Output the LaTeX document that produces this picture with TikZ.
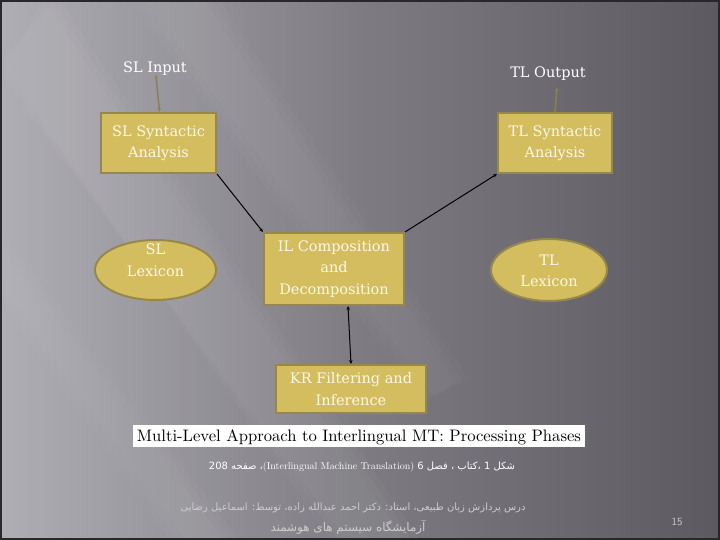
\documentclass[tikz,border=0pt]{standalone}
\usepackage{fontspec}
\newfontfamily\arabicfont[Script=Arabic]{DejaVu Sans}
\newfontfamily\boxfont{DejaVu Serif}
\TeXXeTstate=1
\usetikzlibrary{shapes.geometric,arrows.meta}
\definecolor{boxfill}{RGB}{211,189,95}
\definecolor{boxdraw}{RGB}{150,135,75}
\definecolor{boxtext}{RGB}{252,248,232}
\definecolor{olive}{RGB}{140,128,80}
\definecolor{bgL}{RGB}{176,174,181}
\definecolor{bgM}{RGB}{126,124,130}
\definecolor{bgR}{RGB}{92,90,96}
\definecolor{framec}{RGB}{40,40,42}
\definecolor{footc}{RGB}{205,205,207}
\begin{document}
\begin{tikzpicture}[x=1pt,y=-1pt,
  box/.style={draw=boxdraw, line width=2pt, fill=boxfill, text=boxtext, align=center,
    font=\boxfont\fontsize{14.5}{21.5}\selectfont, inner sep=0pt},
  lex/.style={ellipse, draw=boxdraw, line width=2pt, fill=boxfill, inner sep=0pt},
  lextext/.style={text=boxtext, align=center, font=\boxfont\fontsize{14.5}{21.5}\selectfont},
  plain/.style={text=white, font=\boxfont\fontsize{14.5}{20}\selectfont},
  link/.style={black, line width=1pt, -{Stealth[length=4pt,width=3.5pt]}},
  iolink/.style={olive, line width=1.5pt, -{Stealth[length=4pt,width=3.5pt]}}]
\useasboundingbox (0,0) rectangle (720,540);
% background
\shade[left color=bgL, right color=bgR, middle color=bgM] (0,0) rectangle (720,540);
\foreach \o in {0,8,16} {
  \fill[white, opacity=0.025] (0,60+\o) -- (60-\o,0) -- (420-\o,540) -- (330+\o,540) -- cycle;
  \fill[white, opacity=0.02] (0,230+\o) -- (0,300-\o) -- (170+\o,540) -- (240-\o,540) -- cycle;
  \fill[white, opacity=0.018] (130+\o,0) -- (220-\o,0) -- (470-\o,380) -- (420+\o,400) -- cycle;
}
\draw[framec, line width=2.5pt] (1,1) rectangle (719,539);
% nodes
\node[plain] (slin) at (155,69) {SL Input};
\node[plain] (tlout) at (548,74) {TL Output};
\node[box, minimum width=115pt, minimum height=60pt] (sl) at (158.5,143) {SL Syntactic\\Analysis};
\node[box, minimum width=114pt, minimum height=60pt] (tl) at (555,143) {TL Syntactic\\Analysis};
\node[lex, minimum width=121pt, minimum height=60pt] (sllex) at (155.5,270) {};
\node[lextext] (sllext) at (155.5,260) {SL\\Lexicon};
\node[lex, minimum width=116pt, minimum height=62pt] (tllex) at (549,270) {};
\node[lextext] (tllext) at (549,271) {TL\\Lexicon};
\node[box, minimum width=140pt, minimum height=72pt] (il) at (334,269) {IL Composition\\and\\Decomposition};
\node[box, minimum width=150pt, minimum height=48pt] (kr) at (351,389) {KR Filtering and\\Inference};
% connectors
\draw[iolink] ([xshift=1pt,yshift=4pt]slin.south) -- ([xshift=1pt]sl.north);
\draw[iolink] (tl.north) -- ([xshift=9pt,yshift=-3pt]tlout.south);
\draw[link] (sl.south east) -- (il.north west);
\draw[link] (il.north east) -- (tl.south west);
\draw[link, {Stealth[length=4pt,width=3.5pt]}-{Stealth[length=4pt,width=3.5pt]}] ([xshift=14pt]il.south) -- (kr.north);
% caption image
\node[fill=white, minimum width=452pt, minimum height=22pt, inner sep=0pt] (cap) at (359,436) {};
\node[text=black, inner sep=0pt] (captext) at (359,437) {\resizebox{444pt}{!}{Multi-Level Approach to Interlingual MT: Processing Phases}};
% footer
\node[text=white, inner sep=0pt] (src) at (362,467) {\resizebox{306pt}{!}{\arabicfont\beginR شکل 1 ،کتاب ، فصل 6 \beginL{\rmfamily (Interlingual Machine Translation)}\endL{}، صفحه 208\endR}};
\node[text=footc, inner sep=0pt] (course) at (353,508) {\resizebox{345pt}{!}{\arabicfont\beginR درس پردازش زبان طبیعی، استاد: دکتر احمد عبدالله زاده، توسط: اسماعیل رضایی\endR}};
\node[text=footc, inner sep=0pt] (lab) at (348,527) {\resizebox{155pt}{!}{\arabicfont\beginR آزمایشگاه سیستم های هوشمند\endR}};
\node[text=footc, font=\sffamily\fontsize{11}{12}\selectfont] (page) at (677,522) {15};
\end{tikzpicture}
\end{document}
